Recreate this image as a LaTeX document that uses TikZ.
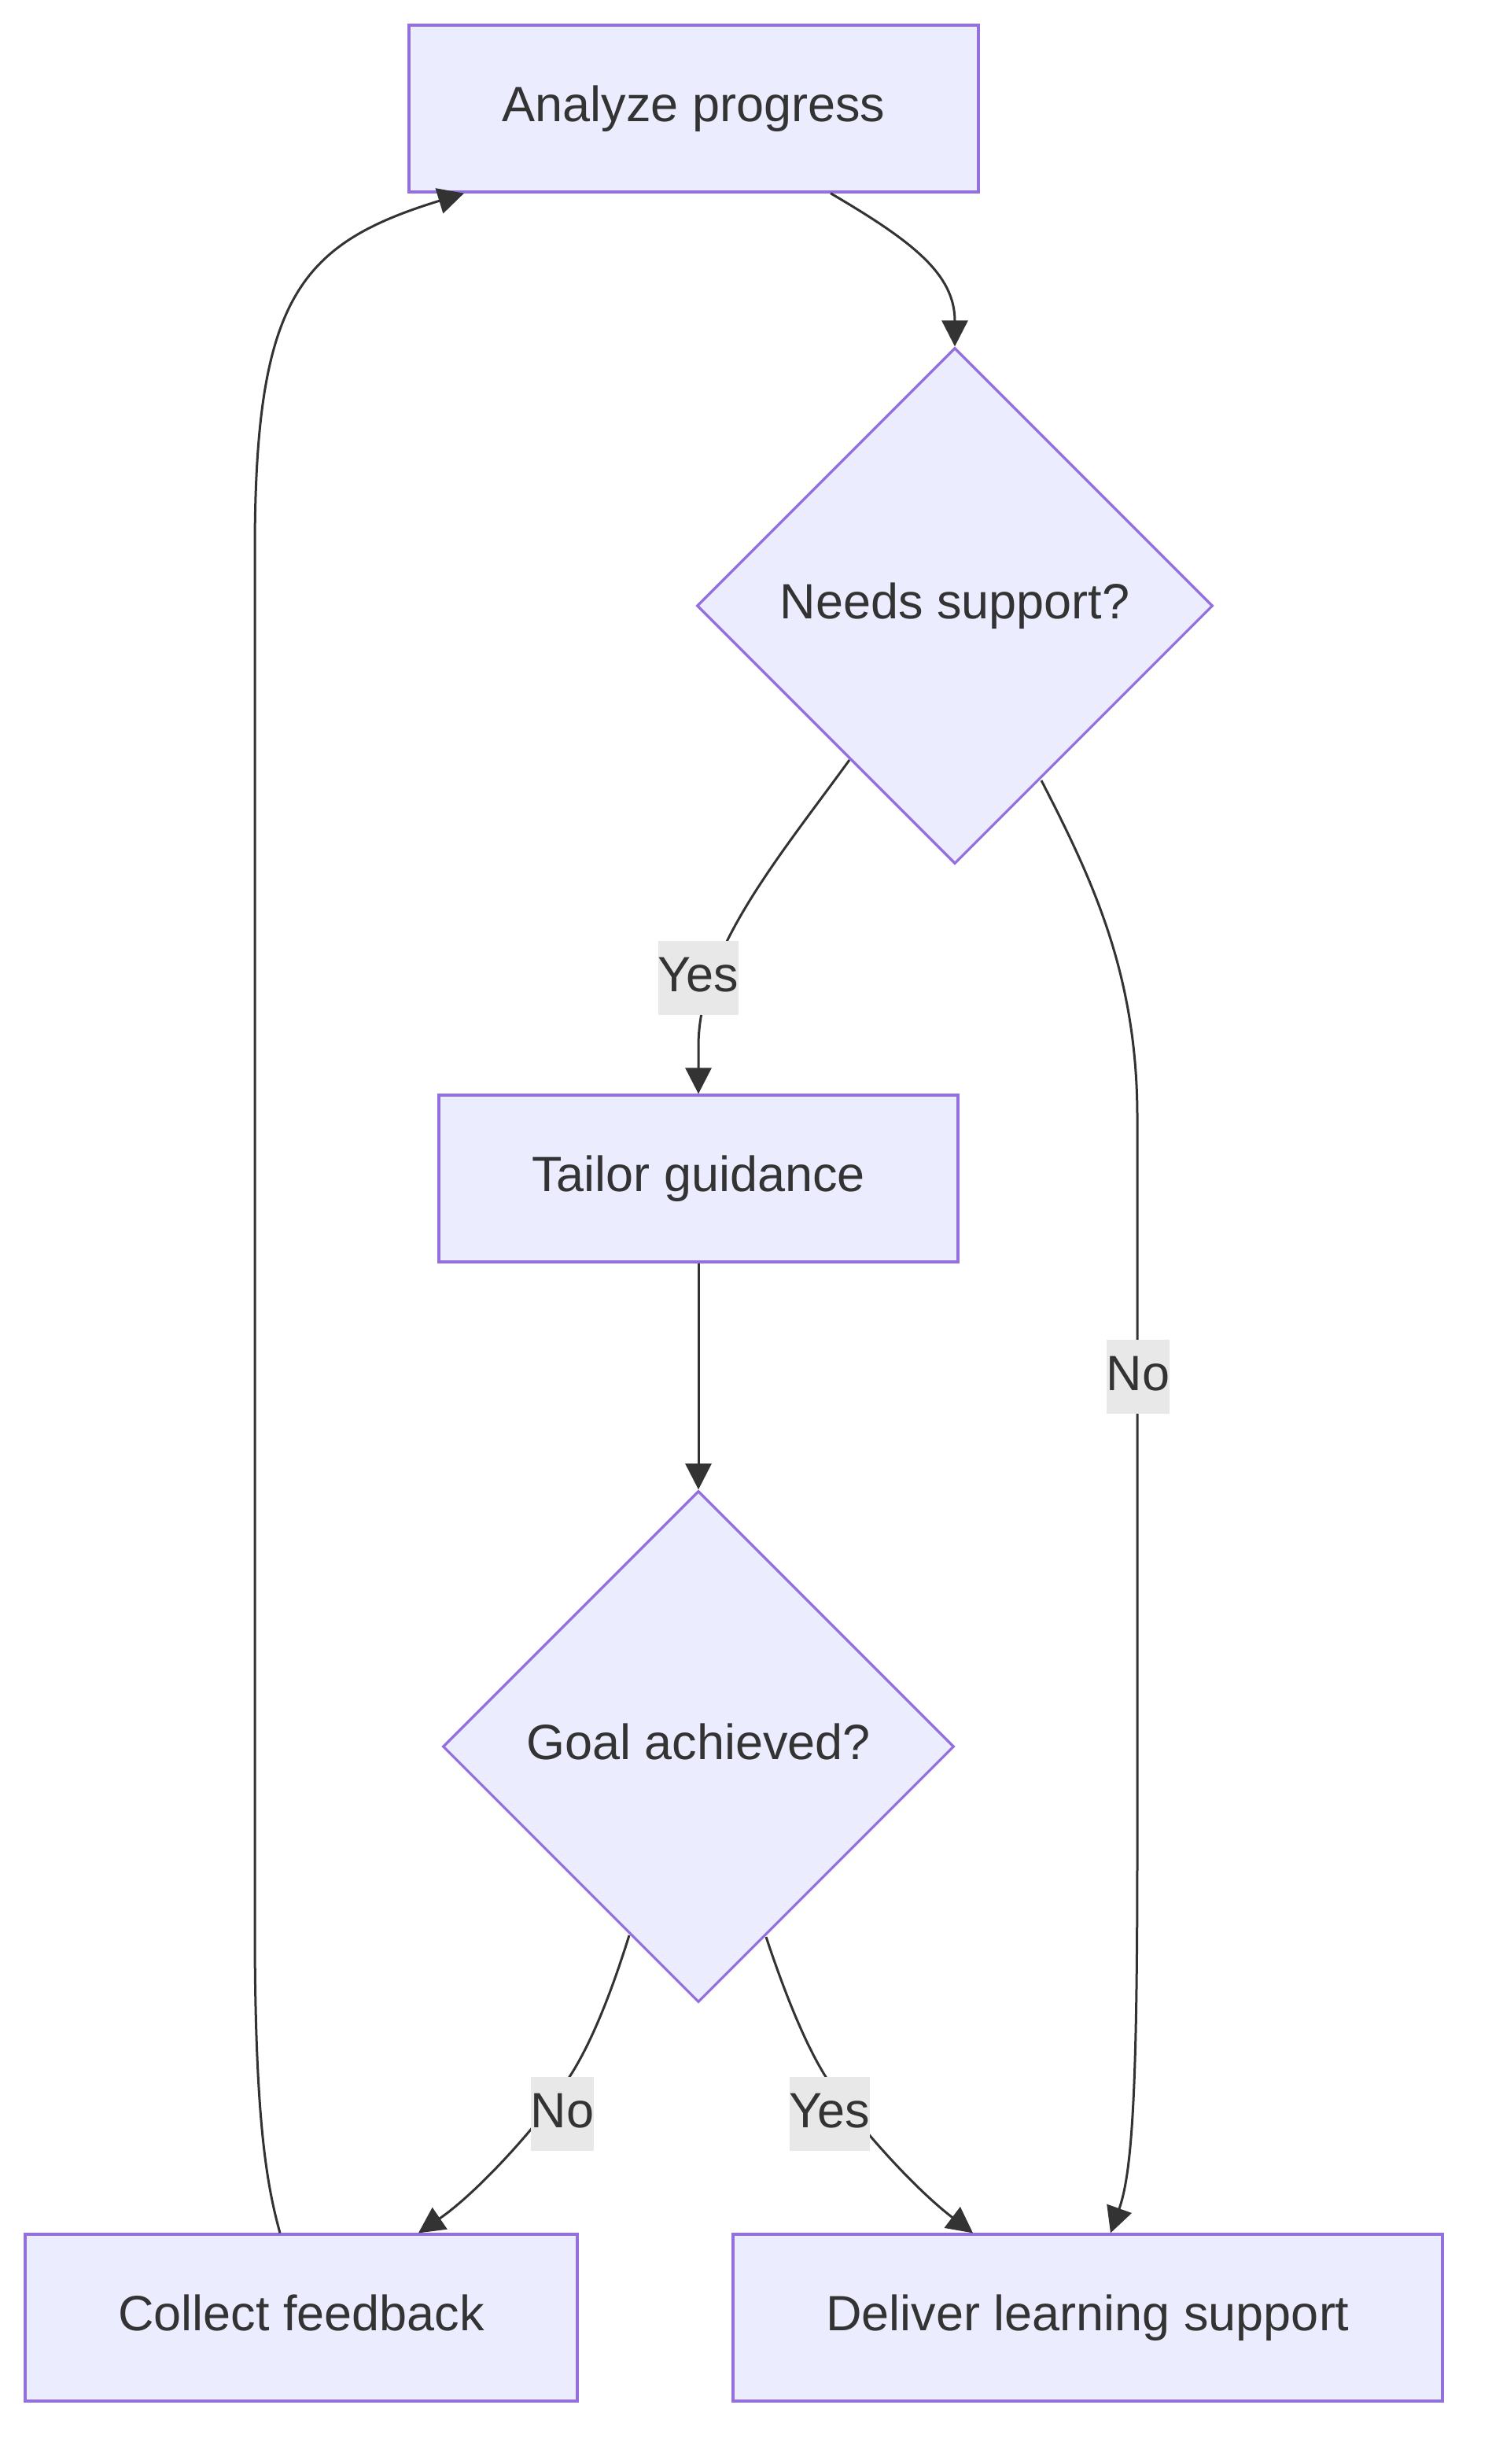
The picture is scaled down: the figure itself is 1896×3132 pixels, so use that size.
\documentclass[tikz,border=0pt]{standalone}
\usepackage{fontspec}
\setmainfont{Liberation Sans}
\usetikzlibrary{shapes.geometric,arrows.meta,calc}
\definecolor{nfill}{HTML}{ECECFF}
\definecolor{nstroke}{HTML}{9370DB}
\definecolor{ink}{HTML}{333333}
\definecolor{lblbg}{HTML}{E8E8E8}
\begin{document}
\begin{tikzpicture}[x=1pt,y=-1pt,
  every node/.style={font=\fontsize{63}{76}\selectfont, text=ink},
  box/.style={draw=nstroke, fill=nfill, line width=3.3pt, rectangle, inner sep=0pt, text height=48pt, text depth=16pt},
  dec/.style={draw=nstroke, fill=nfill, line width=3.3pt, diamond, aspect=1, inner sep=0pt, text height=48pt, text depth=16pt},
  edge/.style={draw=ink, line width=3pt, -{Triangle[length=33pt,width=33pt]}},
  lbl/.style={fill=lblbg, inner xsep=0pt, inner ysep=0pt, minimum height=94pt, text height=50pt, text depth=16pt}
]
\fill[white] (0,0) rectangle (1896,3132);
\useasboundingbox (0,0) rectangle (1896,3132);

\node[box, minimum width=724pt, minimum height=212pt] (ap) at (882,138) {Analyze progress};
\node[dec, minimum size=656pt] (ns) at (1214,770) {Needs support?};
\node[box, minimum width=660pt, minimum height=212pt] (tg) at (888,1498) {Tailor guidance};
\node[dec, minimum size=650pt] (ga) at (888,2220) {Goal achieved?};
\node[box, minimum width=702pt, minimum height=212pt] (cf) at (383,2946) {Collect feedback};
\node[box, minimum width=902pt, minimum height=212pt] (dl) at (1383,2946) {Deliver learning support};

% Analyze -> Needs
\draw[edge] ($(ap.south)+(174,0)$) .. controls +(104,61) and +(0,-92) .. (ns.north);
% Needs -> Tailor (Yes)
\draw[edge] ($(ns.center)+(-134,196)$) .. controls (990,1090) and (888,1210) .. (888,1330) -- (tg.north);
% Needs -> Deliver (No)
\draw[edge] ($(ns.center)+(110,222)$) .. controls (1390,1120) and (1446,1240) .. (1446,1420) -- (1446,2350) .. controls (1446,2650) and (1440,2760) .. ($(dl.north)+(29,0)$);
% Tailor -> Goal
\draw[edge] (tg.south) -- (ga.north);
% Goal -> Collect (No)
\draw[edge] ($(ga.center)+(-88,240)$) .. controls (775,2540) and (750,2600) .. (724,2640) .. controls (695,2690) and (610,2785) .. ($(cf.north)+(149,0)$);
% Goal -> Deliver (Yes)
\draw[edge] ($(ga.center)+(86,242)$) .. controls (1000,2540) and (1025,2600) .. (1050,2640) .. controls (1080,2690) and (1160,2780) .. ($(dl.north)+(-146,0)$);
% Collect -> Analyze
\draw[edge] ($(cf.north)+(-27,0)$) .. controls (340,2780) and (324,2700) .. (324,2450) -- (324,700) .. controls (324,380) and (380,310) .. ($(ap.south)+(-292,0)$);

\node[lbl] (l1) at (888,1243) {Yes};
\node[lbl] (l2) at (1447,1750) {No};
\node[lbl] (l3) at (715,2687) {No};
\node[lbl] (l4) at (1055,2687) {Yes};
\end{tikzpicture}
\end{document}
